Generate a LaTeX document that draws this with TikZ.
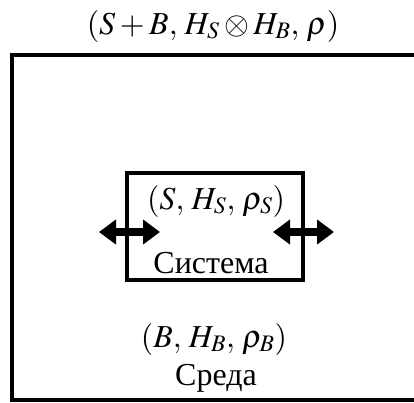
\documentclass[tikz,border=0pt]{standalone}
\usepackage{mathptmx}
\usepackage[no-math]{fontspec}
\setmainfont{Liberation Serif}
\usetikzlibrary{arrows.meta}
\tikzset{
    lbl/.style={inner sep=0pt, anchor=base, font=\fontsize{32}{38}\selectfont},
    flow/.style={line width=8.5pt, {Triangle[length=17pt,width=24pt]}-{Triangle[length=17pt,width=24pt]}}
}

\begin{document}
\begin{tikzpicture}[x=1pt,y=-1pt]
    \useasboundingbox (0,0) rectangle (414,402);
    \clip (0,0) rectangle (414,402);
    \draw[line width=4pt] (422,55) -- (12,55) -- (12,400) -- (422,400);
    \draw[line width=3.2pt] (127,173) rectangle (303,280);
    \node[lbl] (total) at (213,34) {$(S+B,\,H_S\otimes H_B,\,\rho)$};
    \node[lbl] (sysdata) at (216,209) {$(S,\,H_S,\,\rho_S)$};
    \node[lbl] (sysname) at (211,273) {Система};
    \node[lbl] (envdata) at (214,347) {$(B,\,H_B,\,\rho_B)$};
    \node[lbl] (envname) at (216,385) {Среда};
    \coordinate (lin) at (160,232);
    \coordinate (lout) at (99,232);
    \coordinate (rin) at (273,232);
    \coordinate (rout) at (334,232);
    \draw[flow] (lout) -- (lin);
    \draw[flow] (rin) -- (rout);
\end{tikzpicture}
\end{document}
